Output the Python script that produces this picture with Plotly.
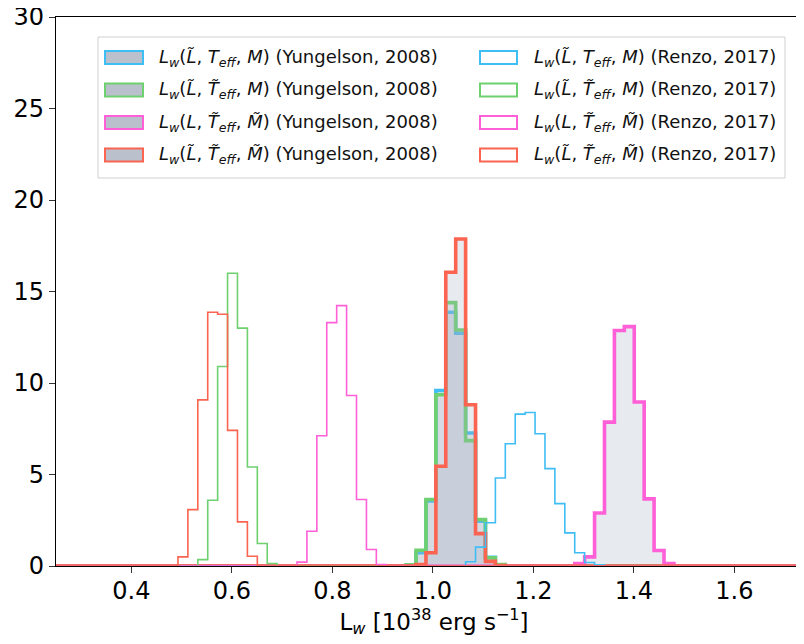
import numpy as np
import plotly.graph_objects as go

# ---------------- data (normalised histograms, density) ----------------
BIN_WIDTH = 0.01974          # common bin width in 1e38 erg/s
GRID_START = 0.2361          # lower edge of common bin grid
N_BINS = 78

series_names = ["blue", "green", "pink", "red"]
series_colors = ["#3fbdf5", "#6fd06f", "#ff5fd7", "#fa6451"]

# Yungelson (2008) - filled histograms: first bin index on common grid + densities
yung_blue_first = 36
yung_blue = [0.04, 0.72, 3.55, 9.59, 13.87, 12.72, 7.27, 2.45, 0.47, 0.05]
yung_green_first = 36
yung_green = [0.06, 0.86, 3.63, 9.36, 14.39, 12.90, 6.85, 2.54, 0.45, 0.08]
yung_pink_first = 53
yung_pink = [0.14, 0.50, 2.90, 7.86, 12.87, 13.08, 8.96, 3.67, 0.85, 0.14]
yung_red_first = 37
yung_red = [0.08, 0.72, 5.45, 16.05, 17.87, 8.81, 1.77, 0.25, 0.03]

# Renzo (2017) - open step histograms
renzo_blue_first = 42
renzo_blue = [0.23, 1.03, 2.36, 4.81, 6.68, 8.30, 8.39, 7.23, 5.32, 3.41, 1.81, 0.72, 0.19, 0.06]
renzo_green_first = 15
renzo_green = [0.35, 3.59, 10.90, 16.00, 13.00, 5.41, 1.23, 0.14]
renzo_pink_first = 25
renzo_pink = [0.21, 1.90, 7.12, 13.30, 14.23, 9.32, 3.63, 0.90, 0.08]
renzo_red_first = 13
renzo_red = [0.50, 3.08, 9.08, 13.87, 13.76, 7.41, 2.41, 0.53]

yung_labels = [
    "<i>L</i><sub><i>w</i></sub>(<i>L\u0303</i>, <i>T</i><sub><i>eff</i></sub>, <i>M</i>) (Yungelson, 2008)",
    "<i>L</i><sub><i>w</i></sub>(<i>L\u0303</i>, <i>T\u0303</i><sub><i>eff</i></sub>, <i>M</i>) (Yungelson, 2008)",
    "<i>L</i><sub><i>w</i></sub>(<i>L</i>, <i>T\u0303</i><sub><i>eff</i></sub>, <i>M\u0303</i>) (Yungelson, 2008)",
    "<i>L</i><sub><i>w</i></sub>(<i>L\u0303</i>, <i>T\u0303</i><sub><i>eff</i></sub>, <i>M\u0303</i>) (Yungelson, 2008)",
]
renzo_labels = [
    "<i>L</i><sub><i>w</i></sub>(<i>L\u0303</i>, <i>T</i><sub><i>eff</i></sub>, <i>M</i>) (Renzo, 2017)",
    "<i>L</i><sub><i>w</i></sub>(<i>L\u0303</i>, <i>T\u0303</i><sub><i>eff</i></sub>, <i>M</i>) (Renzo, 2017)",
    "<i>L</i><sub><i>w</i></sub>(<i>L</i>, <i>T\u0303</i><sub><i>eff</i></sub>, <i>M\u0303</i>) (Renzo, 2017)",
    "<i>L</i><sub><i>w</i></sub>(<i>L\u0303</i>, <i>T\u0303</i><sub><i>eff</i></sub>, <i>M\u0303</i>) (Renzo, 2017)",
]

x_ticks = [0.4, 0.6, 0.8, 1.0, 1.2, 1.4, 1.6]
y_ticks = [0, 5, 10, 15, 20, 25, 30]
x_range = [0.25, 1.7545]
x_title = "L<sub><i>w</i></sub> [10<sup>38</sup> erg s<sup>\u22121</sup>]"

# ---------------- helpers ----------------
edges = GRID_START + BIN_WIDTH * np.arange(N_BINS + 1)


def step_xy(first, vals):
    full = np.zeros(N_BINS)
    full[first:first + len(vals)] = vals
    return edges, np.append(full, full[-1])


FONT = "DejaVu Sans"
fig = go.Figure()

yung = [(yung_blue_first, yung_blue), (yung_green_first, yung_green),
        (yung_pink_first, yung_pink), (yung_red_first, yung_red)]
renzo = [(renzo_blue_first, renzo_blue), (renzo_green_first, renzo_green),
         (renzo_pink_first, renzo_pink), (renzo_red_first, renzo_red)]

FILL = "rgba(163,172,192,0.26)"
for (first, vals), col, lab in zip(yung, series_colors, yung_labels):
    x, y = step_xy(first, vals)
    fig.add_trace(go.Scatter(x=x, y=y, mode="lines", line_shape="hv",
                             line=dict(color=col, width=3.6), opacity=0.86,
                             fill="tozeroy", fillcolor=FILL, name=lab,
                             showlegend=False, hoverinfo="skip"))
for (first, vals), col, lab in zip(renzo, series_colors, renzo_labels):
    x, y = step_xy(first, vals)
    fig.add_trace(go.Scatter(x=x, y=y, mode="lines", line_shape="hv",
                             line=dict(color=col, width=1.6), name=lab,
                             showlegend=False, hoverinfo="skip"))

# The page body adds an 8px offset; pixel positions below are page
# coordinates of the reference, converted relative to the plot's top-left.
PAGE_OFF = 8
PLOT_L, PLOT_T = 56, 17
shapes = []
annotations = []
shapes.append(dict(type="rect", xref="paper", yref="paper", xsizemode="pixel", ysizemode="pixel",
                   xanchor=0, yanchor=1, x0=98 - PLOT_L, x1=785 - PLOT_L,
                   y0=-(37 - PLOT_T), y1=-(178 - PLOT_T),
                   line=dict(color="#d0d0d0", width=1), fillcolor="white", layer="below"))
row_y = [57.5, 90.0, 122.5, 155.0]
cols = [(105, 143, 157, yung_labels, "#bac1cc"), (480, 517, 532, renzo_labels, "white")]
for sx0, sx1, tx, labs, fc in cols:
    for r, col, lab in zip(row_y, series_colors, labs):
        shapes.append(dict(type="rect", xref="paper", yref="paper", xsizemode="pixel",
                           ysizemode="pixel", xanchor=0, yanchor=1,
                           x0=sx0 - PLOT_L, x1=sx1 - PLOT_L,
                           y0=-(r - PLOT_T) + 6.5, y1=-(r - PLOT_T) - 6.5,
                           line=dict(color=col, width=2), fillcolor=fc, layer="above"))
        annotations.append(dict(text=lab, xref="paper", yref="paper", x=0, y=1,
                                xanchor="left", yanchor="middle", showarrow=False,
                                xshift=tx - PLOT_L, yshift=-(r - PLOT_T),
                                font=dict(family=FONT, size=18, color="#111111")))

fig.update_layout(
    width=804, height=644 - PAGE_OFF,
    margin=dict(l=PLOT_L - PAGE_OFF, r=0, t=PLOT_T - PAGE_OFF, b=78, autoexpand=False),
    paper_bgcolor="white", plot_bgcolor="white",
    font=dict(family=FONT, size=24, color="black"),
    shapes=shapes, annotations=annotations, showlegend=False,
    xaxis=dict(range=x_range, tickvals=x_ticks, ticktext=[f"{v:.1f}" for v in x_ticks],
               ticks="outside", ticklen=6, tickwidth=1.2, tickcolor="#333333",
               showline=True, linecolor="black", linewidth=1.3, mirror=True,
               showgrid=False, zeroline=False, automargin=False, ticklabeloverflow="allow",
               ticklabelstandoff=-3,
               tickfont=dict(family=FONT, size=24, color="black"),
               title=dict(text=x_title, font=dict(family=FONT, size=23, color="black"), standoff=3)),
    yaxis=dict(range=[0, 30], tickvals=y_ticks, ticks="outside", ticklen=6, tickwidth=1.2,
               tickcolor="#333333", showline=True, linecolor="black", linewidth=1.3,
               mirror=False, showgrid=False, zeroline=False, automargin=False,
               ticklabeloverflow="allow",
               tickfont=dict(family=FONT, size=24, color="black")),
)

fig.write_html("out.html")
